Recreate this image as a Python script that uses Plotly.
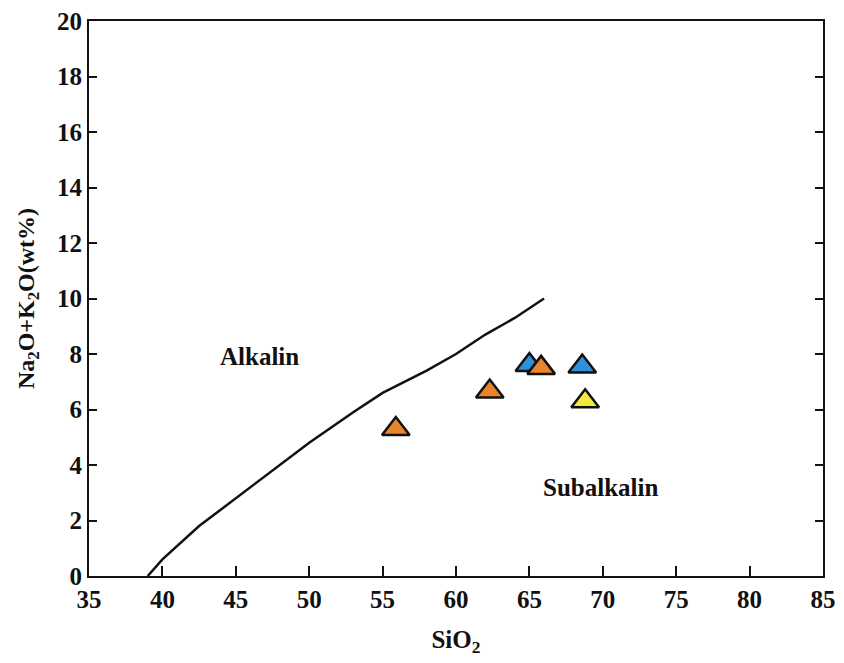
import plotly.graph_objects as go

# Boundary line (Irvine & Baragar alkaline/subalkaline divide)
line_sio2 = [39.0, 40.0, 42.5, 45.0, 48.0, 50.0, 53.0, 55.0, 58.0, 60.0, 62.0, 64.0, 66.0]
line_alk = [0.0, 0.6, 1.8, 2.8, 4.0, 4.8, 5.9, 6.6, 7.4, 8.0, 8.7, 9.3, 10.0]

# Samples
blue_sio2 = [65.0, 68.6]
blue_alk = [7.6, 7.55]
orange_sio2 = [65.8, 62.3, 55.9]
orange_alk = [7.5, 6.65, 5.3]
yellow_sio2 = [68.8]
yellow_alk = [6.3]

x_ticks = [35, 40, 45, 50, 55, 60, 65, 70, 75, 80, 85]
y_ticks = [0, 2, 4, 6, 8, 10, 12, 14, 16, 18, 20]

FONT = "Liberation Serif"

fig = go.Figure()
fig.add_trace(go.Scatter(x=line_sio2, y=line_alk, mode="lines",
                         line=dict(color="#111111", width=2.5), showlegend=False))

def add_pts(xs, ys, color):
    fig.add_trace(go.Scatter(x=xs, y=ys, mode="markers", showlegend=False,
                             marker=dict(symbol="triangle-up", size=24, color=color,
                                         line=dict(color="#111111", width=2.5))))

add_pts(blue_sio2, blue_alk, "#2f8fd8")
add_pts(orange_sio2, orange_alk, "#e8842c")
add_pts(yellow_sio2, yellow_alk, "#f0ec3c")

fig.add_annotation(x=46.6, y=7.9, text="<b>Alkalin</b>", showarrow=False,
                   font=dict(family=FONT, size=25, color="#111111"))
fig.add_annotation(x=69.85, y=3.2, text="<b>Subalkalin</b>", showarrow=False,
                   font=dict(family=FONT, size=25, color="#111111"))

fig.update_layout(
    width=844, height=663,
    margin=dict(l=89, r=18, t=8, b=87),
    paper_bgcolor="white", plot_bgcolor="white",
    font=dict(family=FONT, color="#111111"),
)
fig.update_xaxes(range=[35, 85], tickvals=x_ticks, ticktext=[str(v) for v in x_ticks],
                 showgrid=False, zeroline=False, showline=True, linecolor="#111111",
                 linewidth=2, mirror=True, ticks="inside", ticklen=10, tickwidth=2,
                 tickcolor="#111111", ticklabeloverflow="allow",
                 tickfont=dict(family=FONT, size=25, color="#111111", weight="bold"),
                 title=dict(text="<b>SiO<sub>2</sub></b>", font=dict(family=FONT, size=25),
                            standoff=18))
fig.update_yaxes(range=[0, 20], tickvals=y_ticks, ticktext=[str(v) for v in y_ticks],
                 showgrid=False, zeroline=False, showline=True, linecolor="#111111",
                 linewidth=2, mirror="ticks", ticks="inside", ticklen=8, tickwidth=2,
                 tickcolor="#111111", ticklabeloverflow="allow",
                 tickfont=dict(family=FONT, size=25, color="#111111", weight="bold"),
                 title=dict(text="<b>Na<sub>2</sub>O+K<sub>2</sub>O(wt%)</b>",
                            font=dict(family=FONT, size=24), standoff=16))

fig.write_html("out.html")
